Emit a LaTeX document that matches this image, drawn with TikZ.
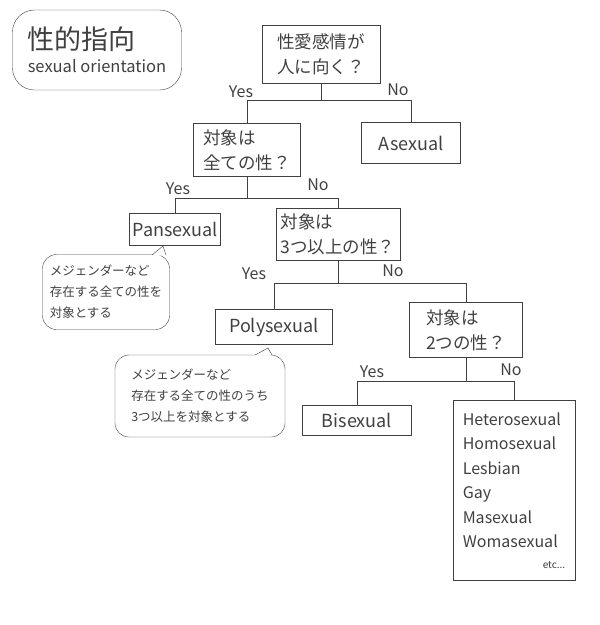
\documentclass[tikz,border=0pt]{standalone}
\usepackage{fontspec}
\setmainfont{Noto Sans CJK JP}
\usetikzlibrary{positioning}
\colorlet{pencil}{black!75}
\tikzset{
  box/.style={draw=pencil, thin, inner sep=0pt, text=pencil},
  ques/.style={box, align=left, font=\fontsize{17.5}{25}\selectfont},
  leaf/.style={box, font=\fontsize{18}{20}\selectfont},
  note/.style={draw=pencil, thin, rounded corners=14pt, align=left, text=pencil,
    inner sep=0pt, font=\fontsize{12.5}{21}\selectfont},
  ans/.style={text=pencil, font=\fontsize{16}{16}\selectfont},
  wire/.style={draw=pencil, thin}
}
\begin{document}
\begin{tikzpicture}[x=1pt, y=-1pt]
  \useasboundingbox (0,0) rectangle (600,625);
  % title
  \node[note, rounded corners=22pt, minimum width=169pt, minimum height=80pt] (title) at (97,50)
    {{\fontsize{27}{30}\selectfont 性的指向}\\[2pt]{\fontsize{16.5}{17}\selectfont sexual orientation}};

  % questions and leaves
  \node[ques, minimum width=118pt, minimum height=58pt] (q1) at (321,54) {性愛感情が\\人に向く？};
  \node[ques, minimum width=107pt, minimum height=53pt] (q2) at (247,150) {対象は\\全ての性？};
  \node[leaf, minimum width=99pt, minimum height=41pt] (asex) at (411,143) {Asexual};
  \node[leaf, minimum width=91pt, minimum height=32pt] (pan) at (175,229) {Pansexual};
  \node[ques, minimum width=124pt, minimum height=52pt] (q3) at (338,234) {対象は\\3つ以上の性？};
  \node[leaf, minimum width=117pt, minimum height=35pt] (poly) at (274,327) {Polysexual};
  \node[ques, minimum width=113pt, minimum height=55pt] (q4) at (466,330) {対象は\\2つの性？};
  \node[leaf, minimum width=109pt, minimum height=30pt] (bi) at (357,420) {Bisexual};
  \node[box, minimum width=122pt, minimum height=180pt, align=left, anchor=north,
    font=\fontsize{16}{24.5}\selectfont] (list) at (514,400)
    {Heterosexual\\Homosexual\\Lesbian\\Gay\\Masexual\\Womasexual\\[-4pt]
     \hspace*{80pt}{\fontsize{10}{10}\selectfont etc...}};

  % notes
  \node[note, minimum width=127pt, minimum height=75pt] (n1) at (106,292)
    {メジェンダーなど\\存在する全ての性を\\対象とする};
  \node[note, minimum width=170pt, minimum height=82pt] (n2) at (200,396)
    {メジェンダーなど\\存在する全ての性のうち\\3つ以上を対象とする};
  \coordinate (t1) at (163,246);
  \coordinate (t2) at (268,348);
  \fill[white] (152,255.6) -- (t1) -- (166,255.6) -- cycle;
  \draw[wire] (152,255) -- (t1) -- (166,255);
  \fill[white] (255,355.6) -- (t2) -- (272,355.6) -- cycle;
  \draw[wire] (255,355) -- (t2) -- (272,355);

  % branches
  \draw[wire] (q1.south) -- ++(0,17) coordinate (j1);
  \draw[wire] (q2.north) |- (j1) -| (asex.north);
  \draw[wire] (q2.south) -- ++(0,21) coordinate (j2);
  \draw[wire] (pan.north) |- (j2) -| (q3.north);
  \draw[wire] (q3.south) -- ++(0,23) coordinate (j3);
  \draw[wire] (poly.north) |- (j3) -| (q4.north);
  \draw[wire] (q4.south) -- ++(0,23) coordinate (j4);
  \draw[wire] (bi.north) |- (j4) -| (list.north);

  % answers
  \node[ans] (y1) at (241,92) {Yes};
  \node[ans] (n1l) at (398,90) {No};
  \node[ans] (y2) at (178,189) {Yes};
  \node[ans] (n2l) at (318,185) {No};
  \node[ans] (y3) at (254,274) {Yes};
  \node[ans] (n3l) at (393,271) {No};
  \node[ans] (y4) at (372,372) {Yes};
  \node[ans] (n4l) at (511,370) {No};
\end{tikzpicture}
\end{document}
